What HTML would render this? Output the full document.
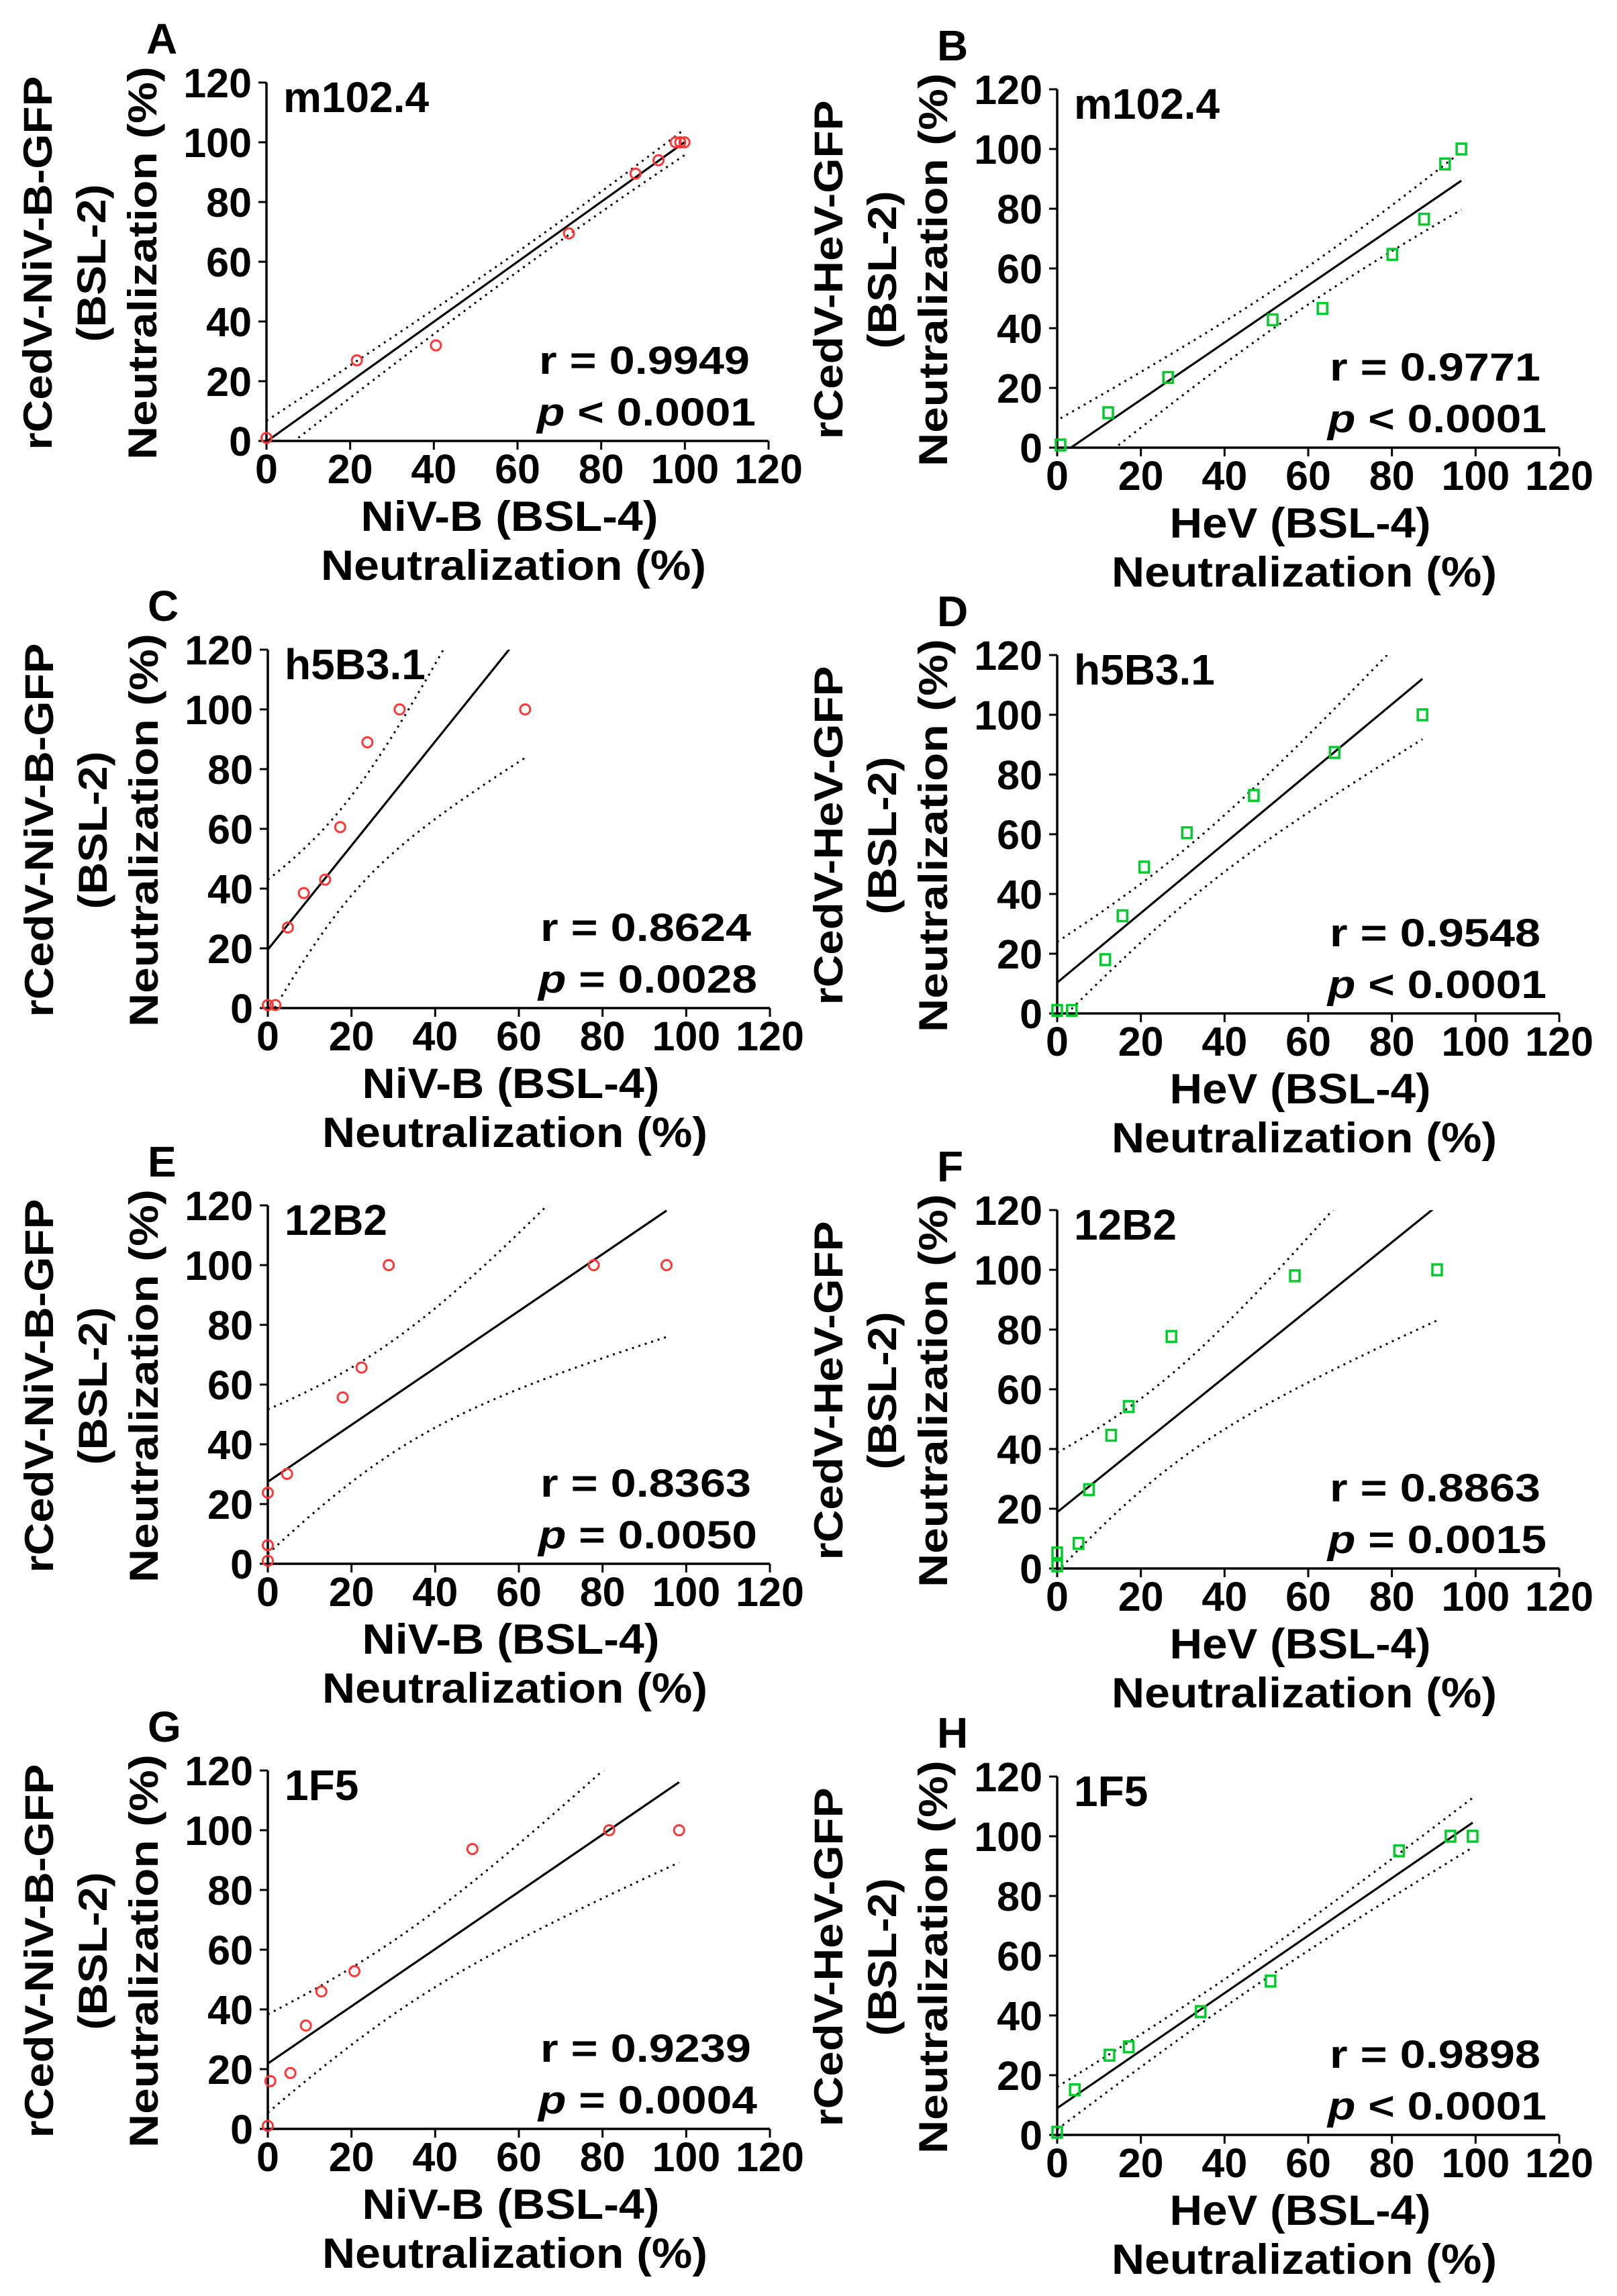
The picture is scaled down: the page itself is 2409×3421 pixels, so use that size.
<!DOCTYPE html>
<html><head><meta charset="utf-8"><style>
html,body{margin:0;padding:0;background:#fff;}
svg{display:block;}
text{font-family:"Liberation Sans",Arial,sans-serif;font-weight:bold;fill:#000;}
</style></head><body>
<svg id="fig" width="2409" height="3421" viewBox="0 0 2409 3421" xmlns="http://www.w3.org/2000/svg"></svg>
<script>
// ---- data (x = BSL-4 neutralization %, y = rCedV BSL-2 neutralization %) ----
const aX=[0,21.6,40.5,72.3,88.2,93.7,97.8,98.9,99.9];
const aY=[1,27,32,69.5,89.5,94,100,100,100];
const bX=[0.8,12.2,26.5,51.5,63.4,80.1,87.7,92.7,96.6];
const bY=[0.9,11.7,23.5,42.8,46.6,64.7,76.5,95,100];
const cX=[0,1.8,4.8,8.6,13.7,17.3,23.8,31.5,61.5];
const cY=[1,1,27,38.5,43,60.6,89,100,100];
const dX=[0,3.5,11.5,15.6,20.8,31,47,66.3,87.3];
const dY=[1,1,18,32.7,49,60.5,73,87.4,100];
const eX=[0,0,0,4.6,17.9,22.4,28.9,77.9,95.3];
const eY=[1,6.2,23.8,30.1,55.7,65.7,100,100,100];
const fX=[0,0,5.1,7.6,12.9,17.1,27.3,56.8,90.8];
const fY=[0.9,5.2,8.4,26.4,44.6,54.2,77.7,98,100];
const gX=[0,0.6,5.4,9.1,12.8,20.7,48.9,81.6,98.3];
const gY=[1,16,18.7,34.6,46,52.8,93.7,100,100];
const hX=[0,4.2,12.5,17.1,34.3,51,81.7,94,99.3];
const hY=[0.9,15.1,26.7,29.5,41.3,51.5,95.1,100,100];
const tickValues=[0,20,40,60,80,100,120];
const panelLetters=["A","B","C","D","E","F","G","H"];
const antibodies=["m102.4","m102.4","h5B3.1","h5B3.1","12B2","12B2","1F5","1F5"];
const rTexts=["r = 0.9949","r = 0.9771","r = 0.8624","r = 0.9548","r = 0.8363","r = 0.8863","r = 0.9239","r = 0.9898"];
const pOps=["<","<","=","<","=","=","=","<"];
const pVals=["0.0001","0.0001","0.0028","0.0001","0.0050","0.0015","0.0004","0.0001"];

const NS="http://www.w3.org/2000/svg";
const svg=document.getElementById('fig');
const panelsX=[aX,bX,cX,dX,eX,fX,gX,hX];
const panelsY=[aY,bY,cY,dY,eY,fY,gY,hY];
const origins=[[397,657],[1575,667],[399,1502],[1575,1510],[399,2330],[1575,2337],[399,3172],[1575,3181]];
const PW=748, PH=534;
const tTable={1:12.706,2:4.303,3:3.182,4:2.776,5:2.571,6:2.447,7:2.365,8:2.306,9:2.262,10:2.228};

function mk(tag,attrs,parent){const e=document.createElementNS(NS,tag);for(const k in attrs)e.setAttribute(k,attrs[k]);(parent||svg).appendChild(e);return e;}
function txt(parent,x,y,s,size,extra){const t=mk('text',Object.assign({x:x,y:y,'font-size':size},extra||{}),parent);t.textContent=s;return t;}

for(let i=0;i<8;i++){
  const left=i%2===0;
  const [x0,y0]=origins[i];
  const sx=v=>x0+v/120*PW;
  const sy=v=>y0-v/120*PH;
  const g=mk('g',{});
  
  
  const cp=mk('clipPath',{id:'clip'+i},g);
  mk('rect',{x:x0,y:y0-PH,width:PW,height:PH},cp);

  const ya=mk('line',{x1:x0,y1:y0+1.5,x2:x0,y2:y0-PH,stroke:'#000','stroke-width':3.5},g);
  
  
  const xa=mk('line',{x1:x0-1.5,y1:y0,x2:x0+PW,y2:y0,stroke:'#000','stroke-width':3.5},g);
  
  
  tickValues.forEach(v=>{
    const yt=mk('line',{x1:x0-12,y1:sy(v),x2:x0,y2:sy(v),stroke:'#000','stroke-width':3},g);
    
    
    const yl=txt(g,x0-22,sy(v)+22,String(v),61,{'text-anchor':'end'});
    
    
    const xt=mk('line',{x1:sx(v),y1:y0,x2:sx(v),y2:y0+13,stroke:'#000','stroke-width':3},g);
    
    
    const xl=txt(g,sx(v),y0+63,String(v),61,{'text-anchor':'middle'});
    
    
  });

  const X=panelsX[i],Y=panelsY[i],n=X.length;
  const xm=X.reduce((a,b)=>a+b,0)/n, ym=Y.reduce((a,b)=>a+b,0)/n;
  let sxx=0,sxy=0;for(let k=0;k<n;k++){sxx+=(X[k]-xm)**2;sxy+=(X[k]-xm)*(Y[k]-ym);}
  const b=sxy/sxx,a=ym-b*xm;
  let ss=0;for(let k=0;k<n;k++){ss+=(Y[k]-a-b*X[k])**2;}
  const s=Math.sqrt(ss/(n-2)),t=tTable[n-2]||1.96;
  const xmin=Math.min(...X),xmax=Math.max(...X);
  const fit=mk('line',{x1:sx(xmin),y1:sy(a+b*xmin),x2:sx(xmax),y2:sy(a+b*xmax),stroke:'#000','stroke-width':3.2,'clip-path':'url(#clip'+i+')'},g);
  
  
  [1,-1].forEach(sg=>{
    const pts=[];
    for(let k=0;k<=60;k++){const xx=xmin+(xmax-xmin)*k/60;const yy=a+b*xx+sg*t*s*Math.sqrt(1/n+(xx-xm)**2/sxx);pts.push(sx(xx).toFixed(1)+','+sy(yy).toFixed(1));}
    const band=mk('polyline',{points:pts.join(' '),fill:'none',stroke:'#000','stroke-width':3,'stroke-dasharray':'3 7','clip-path':'url(#clip'+i+')'},g);
    
    
  });

  for(let k=0;k<n;k++){
    let m;
    if(left){m=mk('circle',{cx:sx(X[k]),cy:sy(Y[k]),r:7.5,fill:'none',stroke:'#ff3636','stroke-width':3},g);}
    else{m=mk('rect',{x:sx(X[k])-7,y:sy(Y[k])-8,width:14,height:16,fill:'none',stroke:'#00cc2a','stroke-width':3.5},g);}
    
    
  }

  const L=txt(g,x0-179,y0-577,panelLetters[i],64);
  
  
  const ab=txt(g,x0+25,y0-490,antibodies[i],64);
  
  
  const rt=txt(g,x0+720,y0-100,rTexts[i],58,{'text-anchor':'end',textLength:314,lengthAdjust:'spacingAndGlyphs'});
  
  
  const pt=mk('text',{x:x0+403,y:y0-23,'font-size':58,textLength:326,lengthAdjust:'spacingAndGlyphs'},g);
  
  
  const pi=document.createElementNS(NS,'tspan');pi.setAttribute('font-style','italic');pi.textContent='p';pt.appendChild(pi);
  pt.appendChild(document.createTextNode(' '+pOps[i]+' '+pVals[i]));

  const xt1=txt(g,x0+362,y0+134,left?'NiV-B (BSL-4)':'HeV (BSL-4)',63,{'text-anchor':'middle',textLength:left?443:389,lengthAdjust:'spacingAndGlyphs'});
  
  
  const xt2=txt(g,x0+368,y0+207,'Neutralization (%)',63,{'text-anchor':'middle',textLength:574,lengthAdjust:'spacingAndGlyphs'});
  
  

  const cy=y0-265;
  const y1=txt(g,0,0,left?'rCedV-NiV-B-GFP':'rCedV-HeV-GFP',60,{'text-anchor':'middle',transform:'translate('+(x0-320)+','+cy+') rotate(-90)',textLength:left?557:505,lengthAdjust:'spacingAndGlyphs'});
  
  
  const y2=txt(g,0,0,'(BSL-2)',60,{'text-anchor':'middle',transform:'translate('+(x0-240)+','+cy+') rotate(-90)',textLength:235,lengthAdjust:'spacingAndGlyphs'});
  
  
  const y3=txt(g,0,0,'Neutralization (%)',60,{'text-anchor':'middle',transform:'translate('+(x0-164)+','+cy+') rotate(-90)',textLength:586,lengthAdjust:'spacingAndGlyphs'});
  
  
}
</script>
</body></html>
